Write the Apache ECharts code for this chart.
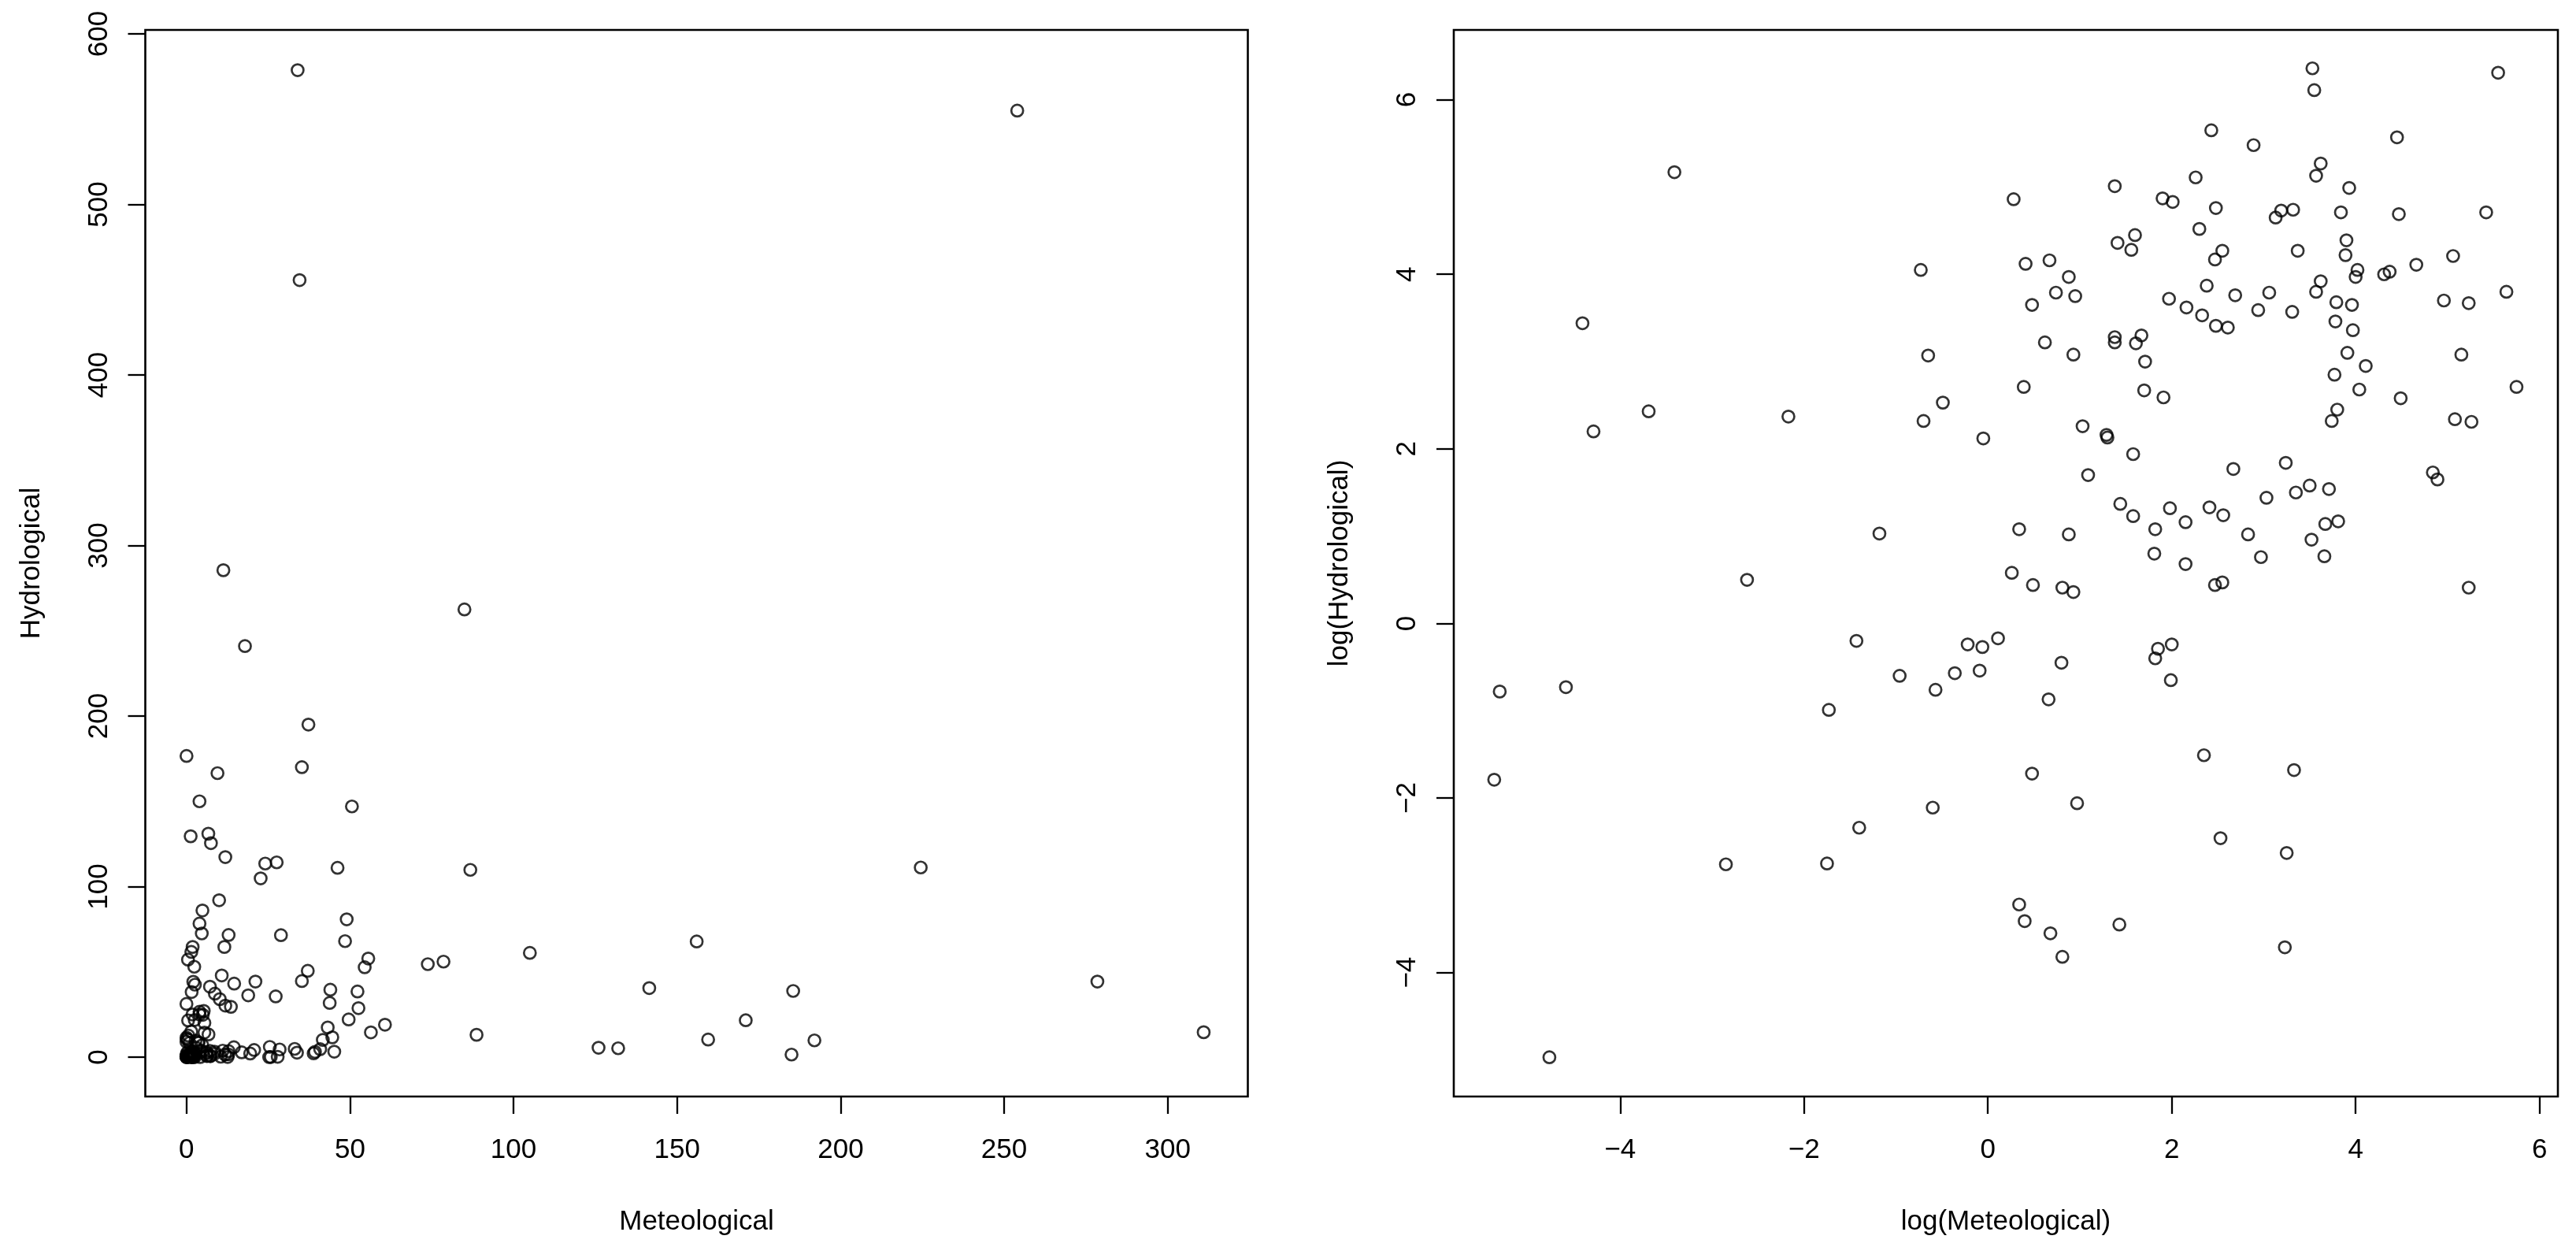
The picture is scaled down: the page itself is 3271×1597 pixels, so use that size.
<!DOCTYPE html>
<html>
<head>
<meta charset="utf-8">
<title>Meteological vs Hydrological</title>
<script src="https://cdn.jsdelivr.net/npm/echarts@6.0.0/dist/echarts.min.js"></script>
<style>
  html, body { margin: 0; padding: 0; background: #fff; }
  #chart { width: 3271px; height: 1597px; }
</style>
</head>
<body>
<div id="chart"></div>
<script>
// raw values (left panel)
const meteo = [
  0.03, 0.48, 0.01, 0.52, 0.61, 0.50, 0.03, 0.01, 0.11, 0.95, 0.31, 0.07,
  34.0, 34.6, 254, 11.3, 17.9, 85, 37.3, 35.3, 9.5, 4.0,
  1.3, 6.7, 7.5, 50.6, 11.9, 24.1, 22.7, 27.6, 46.2, 86.8,
  224.5, 10.0, 4.9, 4.0, 4.7, 12.9, 11.6, 28.9, 49, 48.5,
  55.6, 54.5, 73.8, 78.6, 105, 156, 1.5, 1.9, 2.4, 2.1,
  2.6, 1.6, 10.8, 7.2, 8.7, 10.2, 11.9, 13.6, 14.6, 21.1,
  18.9, 27.3, 37.1, 35.3, 44.0, 52.3, 43.8, 52.6, 141.5, 185.5,
  278.5, 1.86, 2.53, 4.0, 4.0, 5.3, 5.0, 5.5, 49.6, 60.7,
  43.2, 56.4, 171, 1.48, 5.5, 6.75, 88.7, 311, 44.6, 41.7,
  159.5, 192, 2.8, 3.6, 3.7, 4.85, 3.0, 14.5, 25.5, 126,
  132, 33.1, 40.9, 28.5, 20.7, 4.2, 4.85, 7.2, 11.1, 12.9,
  8.6, 6.2, 1.4, 2.4, 16.9, 39.3, 45.2, 33.8, 6.1, 8.6,
  19.5, 38.9, 1.3,
  0.24, 0.80, 0.94, 1.12, 0.38, 0.70, 0.91, 0.57, 0.18, 0.005, 0.01, 0.005, 0.55, 0.25, 0.06, 0.17, 0.01,
  1.63, 2.25, 2.53, 11.8, 12.8, 185, 7.4, 6.4, 6.2, 2.2, 7.3, 1.93, 10.5, 27.9, 1.6, 2.6, 12.6, 25.8, 1.4, 1.5, 2.0, 2.25, 4.2, 25.3
]
const hydro = [
  176.6, 57.2, 31.2, 21.5, 12.6, 10.2, 11.4, 9.0, 10.7, 8.3, 2.8, 1.65,
  578.7, 455.6, 555, 285.5, 241, 262.5, 195, 170, 166.5, 150,
  129.5, 131, 125.5, 147, 117.3, 113.5, 104.8, 114.2, 111, 109.8,
  111.2, 92, 86, 78.3, 72.5, 71.6, 64.6, 71.5, 80.8, 68,
  57.8, 52.7, 54.5, 56, 61.1, 67.8, 61.7, 64.6, 53, 44.2,
  42.5, 38.2, 47.9, 41.3, 37.2, 34, 30.2, 29.5, 43.1, 44.3,
  36.2, 35.6, 50.6, 44.6, 39.5, 38.5, 31.8, 28.7, 40.5, 38.8,
  44.3, 25, 21.8, 26.6, 25, 27.1, 24.8, 20.1, 22.1, 19,
  17.4, 14.5, 21.6, 15, 14.4, 13.3, 13.1, 14.6, 11.6, 10.1,
  10.3, 9.8, 9.6, 8.7, 8.4, 7.0, 5.5, 5.8, 6.0, 5.5,
  5.2, 4.85, 4.66, 4.5, 4.2, 3.9, 3.4, 3.7, 3.8, 3.5,
  3.2, 2.9, 2.9, 2.8, 2.8, 3.1, 3.2, 2.6, 2.2, 2.0,
  2.1, 2.2, 1.8,
  0.82, 0.79, 0.76, 0.84, 0.55, 0.57, 0.58, 0.47, 0.37, 0.46, 0.48, 0.17, 0.12, 0.10, 0.06, 0.06, 0.01,
  1.55, 1.5, 1.43, 1.55, 1.6, 1.5, 0.79, 0.75, 0.67, 0.64, 0.52, 0.42, 0.22, 0.19, 0.18, 0.13, 0.09, 0.07, 0.04, 0.03, 0.03, 0.02, 0.03, 0.02
]

// log values (right panel)
const logMeteo = [
  -3.41, -0.73, -4.41, -0.65, -0.49, -0.70, -3.69, -4.29, -2.17, -0.05, -1.18, -2.62,
  3.53, 3.55, 5.55, 2.43, 2.89, 4.45, 3.62, 3.57, 2.26, 1.38,
  0.28, 1.90, 2.01, 3.93, 2.48, 3.19, 3.13, 3.32, 3.84, 4.47,
  5.42, 2.30, 1.60, 1.41, 1.56, 2.55, 2.47, 3.37, 3.90, 3.89,
  4.02, 4.00, 4.31, 4.37, 4.66, 5.06, 0.41, 0.67, 0.88, 0.74,
  0.95, 0.48, 2.38, 1.97, 2.16, 2.33, 2.48, 2.61, 2.69, 3.06,
  2.94, 3.31, 3.62, 3.57, 3.79, 3.96, 3.78, 3.97, 4.96, 5.23,
  5.64, 0.62, 0.93, 1.38, 1.38, 1.67, 1.61, 1.71, 3.91, 4.11,
  3.77, 4.04, 5.15, 0.39, 1.70, 1.91, 4.49, 5.75, 3.80, 3.74,
  5.08, 5.26, 1.03, 1.29, 1.30, 1.58, 1.09, 2.67, 3.24, 4.84,
  4.89, 3.50, 3.71, 3.35, 3.03, 1.44, 1.58, 1.98, 2.41, 2.56,
  2.15, 1.82, 0.34, 0.88, 2.83, 3.67, 3.81, 3.52, 1.81, 2.15,
  2.97, 3.66, 0.26,
  -1.43, -0.22, -0.06, 0.11, -0.96, -0.36, -0.09, -0.57, -1.73, -5.31, -4.59, -5.37, -0.60, -1.40, -2.85, -1.75, -4.77,
  0.49, 0.81, 0.93, 2.47, 2.55, 5.23, 2.00, 1.85, 1.82, 0.80, 1.99, 0.66, 2.35, 3.33, 0.48, 0.97, 2.53, 3.25, 0.34, 0.40, 0.68, 0.81, 1.43, 3.23
]
const logHydro = [
  5.17, 4.05, 3.44, 3.07, 2.53, 2.32, 2.43, 2.20, 2.37, 2.12, 1.03, 0.50,
  6.36, 6.11, 6.31, 5.65, 5.48, 5.57, 5.27, 5.13, 5.11, 5.01,
  4.86, 4.87, 4.83, 4.99, 4.76, 4.73, 4.65, 4.74, 4.71, 4.69,
  4.71, 4.52, 4.45, 4.36, 4.28, 4.27, 4.17, 4.27, 4.39, 4.22,
  4.05, 3.97, 4.00, 4.03, 4.11, 4.21, 4.12, 4.16, 3.97, 3.79,
  3.75, 3.65, 3.87, 3.72, 3.62, 3.53, 3.41, 3.39, 3.76, 3.79,
  3.59, 3.57, 3.92, 3.80, 3.68, 3.65, 3.46, 3.36, 3.70, 3.67,
  3.80, 3.22, 3.08, 3.28, 3.22, 3.30, 3.21, 3.00, 3.10, 2.95,
  2.85, 2.68, 3.08, 2.71, 2.67, 2.59, 2.58, 2.71, 2.45, 2.32,
  2.34, 2.31, 2.26, 2.16, 2.13, 1.94, 1.70, 1.77, 1.84, 1.73,
  1.65, 1.58, 1.54, 1.50, 1.44, 1.37, 1.23, 1.32, 1.33, 1.24,
  1.16, 1.08, 1.08, 1.02, 1.02, 1.14, 1.17, 0.96, 0.80, 0.68,
  0.76, 0.77, 0.58,
  -0.20, -0.24, -0.27, -0.17, -0.60, -0.57, -0.54, -0.76, -0.99, -0.78, -0.73, -1.79, -2.11, -2.34, -2.76, -2.75, -4.97,
  0.44, 0.41, 0.36, 0.44, 0.47, 0.41, -0.24, -0.29, -0.40, -0.45, -0.65, -0.87, -1.51, -1.68, -1.72, -2.06, -2.46, -2.63, -3.22, -3.41, -3.55, -3.82, -3.45, -3.71
]

const leftXTicks = [0, 50, 100, 150, 200, 250, 300]
const leftYTicks = [0, 100, 200, 300, 400, 500, 600]
const rightXTicks = [-4, -2, 0, 2, 4, 6]
const rightYTicks = [-4, -2, 0, 2, 4, 6]

const FONT = 'Liberation Sans, Arial, sans-serif'
const FS = 35

const fmt = v => String(v).replace('-', '\u2212')

function xAxisOf (idx, name, min, max, ticks) {
  return {
    type: 'value',
    gridIndex: idx,
    position: 'bottom',
    min: min,
    max: max,
    name: name,
    nameLocation: 'middle',
    nameGap: 142,
    nameTextStyle: { color: '#000', fontSize: FS, fontFamily: FONT },
    axisLine: { show: false, onZero: false },
    splitLine: { show: false },
    axisTick: {
      show: true,
      inside: false,
      length: 22,
      customValues: ticks,
      lineStyle: { color: '#000', width: 2.3 }
    },
    axisLabel: {
      customValues: ticks,
      margin: 51,
      color: '#000',
      fontSize: FS,
      fontFamily: FONT,
      formatter: fmt
    }
  }
}

function yAxisOf (idx, name, min, max, ticks) {
  return {
    type: 'value',
    gridIndex: idx,
    position: 'left',
    min: min,
    max: max,
    name: name,
    nameLocation: 'middle',
    nameRotate: 90,
    nameGap: 127,
    nameTextStyle: { color: '#000', fontSize: FS, fontFamily: FONT },
    axisLine: { show: false, onZero: false },
    splitLine: { show: false },
    axisTick: {
      show: true,
      inside: false,
      length: 22,
      customValues: ticks,
      lineStyle: { color: '#000', width: 2.3 }
    },
    axisLabel: {
      customValues: ticks,
      rotate: 90,
      margin: 41,
      color: '#000',
      fontSize: FS,
      fontFamily: FONT,
      formatter: fmt
    }
  }
}

const pointStyle = {
  color: 'rgba(0,0,0,0)',
  borderColor: '#000',
  borderWidth: 2.7
}

let chart = echarts.init(document.getElementById('chart'), null, { renderer: 'canvas' })
chart.setOption({
  animation: false,
  backgroundColor: '#fff',
  grid: [
    { left: 184.5, top: 38, width: 1400, height: 1354, show: true, borderColor: '#000', borderWidth: 2.6, backgroundColor: 'transparent' },
    { left: 1846, top: 38, width: 1402, height: 1354, show: true, borderColor: '#000', borderWidth: 2.6, backgroundColor: 'transparent' }
  ],
  xAxis: [
    xAxisOf(0, 'Meteological', -12.57, 324.5, leftXTicks),
    xAxisOf(1, 'log(Meteological)', -5.81, 6.2, rightXTicks)
  ],
  yAxis: [
    yAxisOf(0, 'Hydrological', -23.1, 602.3, leftYTicks),
    yAxisOf(1, 'log(Hydrological)', -5.42, 6.8, rightYTicks)
  ],
  series: [
    {
      type: 'scatter',
      xAxisIndex: 0,
      yAxisIndex: 0,
      symbol: 'circle',
      symbolSize: 15,
      itemStyle: pointStyle,
      emphasis: { disabled: true },
      data: meteo.map((m, i) => [m, hydro[i]])
    },
    {
      type: 'scatter',
      xAxisIndex: 1,
      yAxisIndex: 1,
      symbol: 'circle',
      symbolSize: 15,
      itemStyle: pointStyle,
      emphasis: { disabled: true },
      data: logMeteo.map((m, i) => [m, logHydro[i]])
    }
  ]
})
</script>
</body>
</html>
